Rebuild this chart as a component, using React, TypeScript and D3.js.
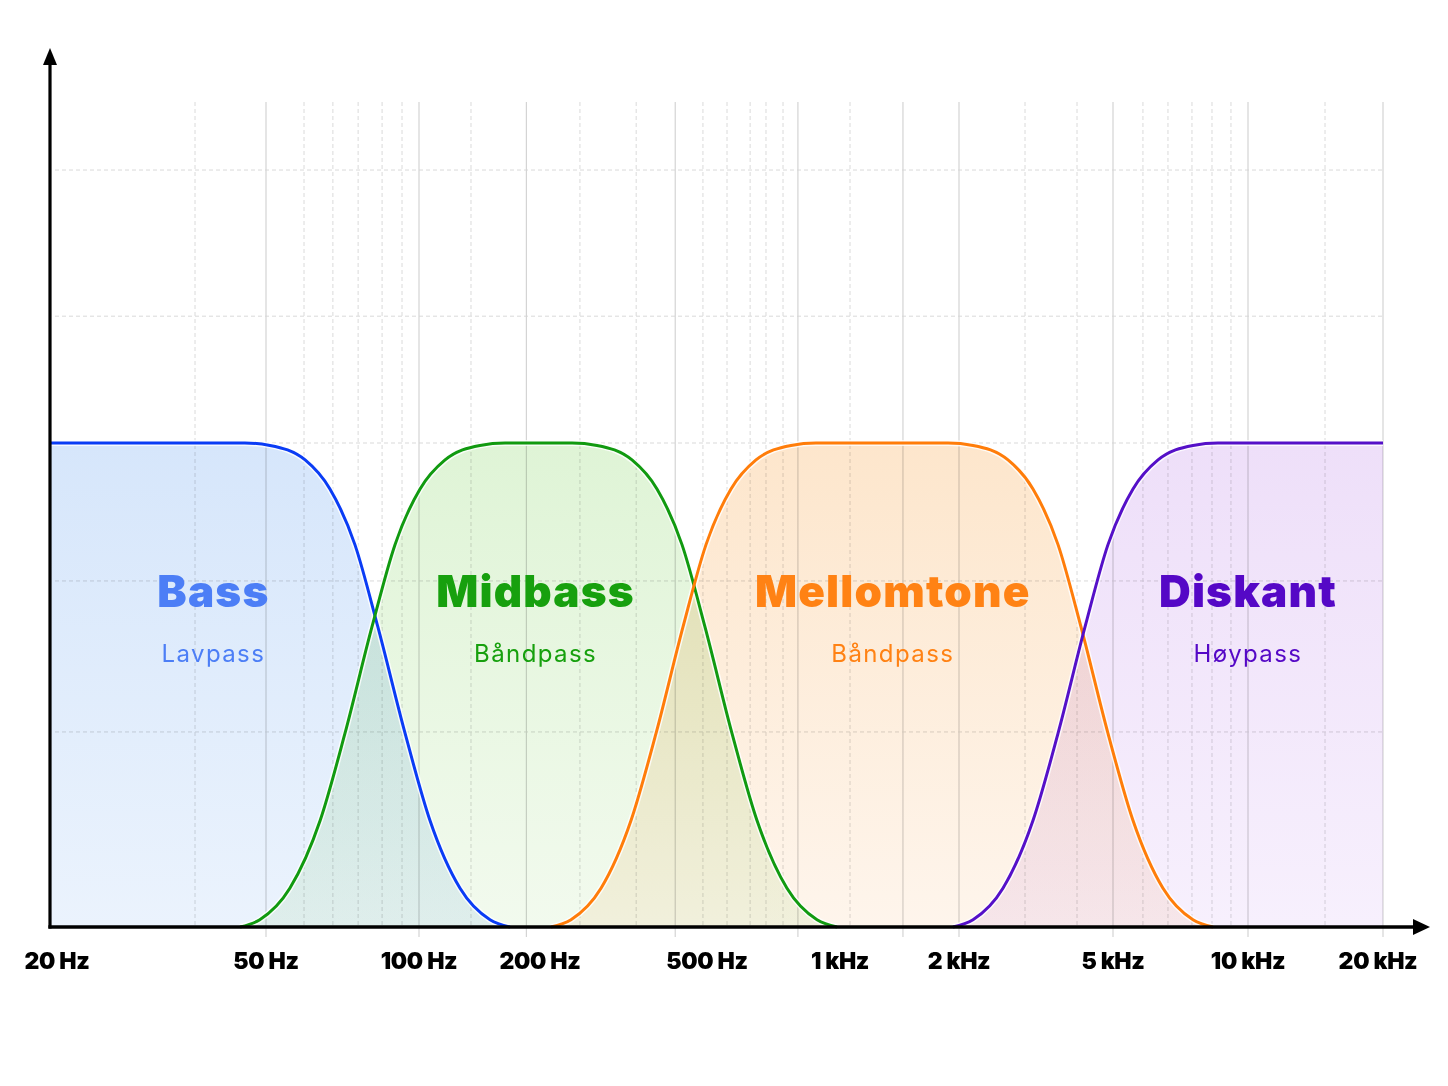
import { useEffect, useRef } from "react";
import * as d3 from "d3";

// frequency ticks along the x axis
const freqTicks = [20, 50, 100, 200, 500, 1000, 2000, 5000, 10000, 20000];
const tickLabels = ["20 Hz", "50 Hz", "100 Hz", "200 Hz", "500 Hz", "1 kHz", "2 kHz", "5 kHz", "10 kHz", "20 kHz"];

// background grid (Hz / relative level)
const majorGrid = [50, 100, 185, 420, 803, 1443, 2000, 5000, 10000, 20000];
const minorGrid = [37, 59.4, 67.7, 75.9, 84.6, 92.6, 134.7, 249, 339, 489, 555, 626, 680, 743, 1060, 2962, 4036, 5831, 6630, 7500, 8312, 9163, 14850];
const levelGrid = [0.403, 0.715, 1, 1.262, 1.564];

// filter responses: [Hz, relative level]
const bassCurve = [[20, 1], [45.7, 1], [50.9, 0.995], [59.7, 0.965], [66.8, 0.905], [74.8, 0.79], [83.0, 0.62], [93.9, 0.4], [106.5, 0.22], [126.5, 0.08], [150.2, 0.015], [168.4, 0]];
const midbassCurve = [[44.8, 0], [48.7, 0.015], [55.7, 0.08], [63.9, 0.22], [71.5, 0.4], [80.8, 0.62], [89.7, 0.79], [100.6, 0.905], [116.1, 0.965], [141.8, 0.995], [163.7, 1], [238.4, 1], [273.4, 0.995], [331.3, 0.965], [380, 0.905], [435.9, 0.79], [494.5, 0.62], [569.6, 0.4], [648.9, 0.22], [758.6, 0.08], [887.1, 0.015], [984.6, 0]];
const mellomtoneCurve = [[212.5, 0], [237.1, 0.015], [279.5, 0.08], [329.5, 0.22], [378, 0.4], [438.3, 0.62], [497.3, 0.79], [566.6, 0.905], [645.5, 0.965], [774.7, 0.995], [882.4, 1], [1876, 1], [2174, 0.995], [2677, 0.965], [3106, 0.905], [3605, 0.79], [4133, 0.62], [4853, 0.4], [5541, 0.22], [6463, 0.08], [7539, 0.015], [8355, 0]];
const diskantCurve = [[1931, 0], [2174, 0.015], [2598, 0.08], [3106, 0.22], [3605, 0.4], [4233, 0.62], [4853, 0.79], [5541, 0.905], [6300, 0.965], [7539, 0.995], [8572, 1], [20000, 1]];

const bandNames = ["Bass", "Midbass", "Mellomtone", "Diskant"];
const bandTypes = ["Lavpass", "Båndpass", "Båndpass", "Høypass"];
const bandLabelFreq = [40, 195, 1360, 10000];
const bandCurves = [bassCurve, midbassCurve, mellomtoneCurve, diskantCurve];

const lineColors = ["#0a3cf5", "#119a10", "#ff7d0a", "#5510c8"];
const labelColors = ["#4c7ef6", "#17a00e", "#ff8214", "#5508c6"];
const fillTop = ["#d6e6fb", "#dff4d6", "#fde6cc", "#eedff9"];
const fillBottom = ["#ebf3fd", "#f2faee", "#fef5ec", "#f7f0fd"];

export default function App() {
  const svgRef = useRef(null);
  const width = 1448;
  const height = 1086;

  useEffect(() => {
    const svg = d3.select(svgRef.current);
    svg.selectAll("*").remove();

    // hand-drawn frequency axis: piecewise log between the labelled ticks
    const x = d3.scaleLog()
      .domain(freqTicks)
      .range([50, 266, 419, 540, 707, 840, 959, 1113, 1248, 1383]);
    const y = d3.scaleLinear().domain([0, 1]).range([927, 443]);

    const defs = svg.append("defs");
    bandNames.forEach((n, i) => {
      const g = defs.append("linearGradient")
        .attr("id", "grad" + i)
        .attr("gradientUnits", "userSpaceOnUse")
        .attr("x1", 0).attr("y1", y(1)).attr("x2", 0).attr("y2", y(0));
      g.append("stop").attr("offset", "0%").attr("stop-color", fillTop[i]);
      g.append("stop").attr("offset", "100%").attr("stop-color", fillBottom[i]);
    });

    const grid = svg.append("g");
    grid.selectAll("line.lvl").data(levelGrid).join("line")
      .attr("x1", 55).attr("x2", x(20000))
      .attr("y1", d => y(d)).attr("y2", d => y(d))
      .attr("stroke", "#d9d9d9").attr("stroke-width", 1).attr("stroke-dasharray", "4,3");
    grid.selectAll("line.minor").data(minorGrid).join("line")
      .attr("x1", d => x(d)).attr("x2", d => x(d))
      .attr("y1", 102).attr("y2", y(0))
      .attr("stroke", "#dadada").attr("stroke-width", 1).attr("stroke-dasharray", "4,3");
    grid.selectAll("line.major").data(majorGrid).join("line")
      .attr("x1", d => x(d)).attr("x2", d => x(d))
      .attr("y1", 102).attr("y2", y(0) + 10)
      .attr("stroke", "#d4d4d4").attr("stroke-width", 1.2);

    const area = d3.area()
      .x(d => x(d[0])).y0(y(0)).y1(d => y(d[1]))
      .curve(d3.curveMonotoneX);
    const line = d3.line()
      .x(d => x(d[0])).y(d => y(d[1]))
      .curve(d3.curveMonotoneX);

    const fills = svg.append("g");
    bandCurves.forEach((c, i) => {
      fills.append("path").attr("d", area(c))
        .attr("fill", "url(#grad" + i + ")")
        .style("mix-blend-mode", "multiply");
    });

    const halos = svg.append("g");
    bandCurves.forEach((c) => {
      halos.append("path").attr("d", line(c))
        .attr("fill", "none").attr("stroke", "#ffffff")
        .attr("stroke-width", 6).attr("stroke-opacity", 0.8);
    });
    const lines = svg.append("g");
    bandCurves.forEach((c, i) => {
      lines.append("path").attr("d", line(c))
        .attr("fill", "none").attr("stroke", lineColors[i])
        .attr("stroke-width", 3);
    });

    // labels
    const labels = svg.append("g").attr("text-anchor", "middle").style("font-family", "Inter, 'Noto Sans', sans-serif");
    bandNames.forEach((n, i) => {
      labels.append("text").attr("x", x(bandLabelFreq[i])).attr("y", 607)
        .attr("fill", labelColors[i]).style("font-size", "44px").style("font-weight", 900)
        .style("letter-spacing", "1.2px")
        .text(n);
      labels.append("text").attr("x", x(bandLabelFreq[i])).attr("y", 662)
        .attr("fill", labelColors[i]).style("font-size", "24px").style("font-weight", 400)
        .style("letter-spacing", "1.4px")
        .text(bandTypes[i]);
    });

    // axes
    const axes = svg.append("g");
    axes.append("line").attr("x1", 50).attr("x2", 50).attr("y1", y(0) + 1.5).attr("y2", 60)
      .attr("stroke", "#000").attr("stroke-width", 3.2);
    axes.append("path").attr("d", "M50,48 L43,65 L57,65 Z").attr("fill", "#000");
    axes.append("line").attr("x1", 48.4).attr("x2", 1418).attr("y1", y(0)).attr("y2", y(0))
      .attr("stroke", "#000").attr("stroke-width", 3.4);
    axes.append("path").attr("d", `M1430,${y(0)} L1413,${y(0) - 8} L1413,${y(0) + 8} Z`).attr("fill", "#000");

    const last = freqTicks.length - 1;
    axes.append("g").attr("text-anchor", "middle")
      .style("font-family", "Inter, 'Noto Sans', sans-serif")
      .selectAll("text").data(freqTicks).join("text")
      .attr("x", (d, i) => x(d) + (i === 0 ? 7 : i === last ? -5 : 0))
      .attr("y", 969)
      .style("font-size", "23px").style("font-weight", 900).style("letter-spacing", "-0.3px")
      .attr("fill", "#000")
      .text((d, i) => tickLabels[i]);
  }, []);

  return (
    <div style={{ position: "absolute", left: 0, top: 0, background: "#fff" }}>
      <svg ref={svgRef} width={width} height={height} style={{ display: "block" }} />
    </div>
  );
}
